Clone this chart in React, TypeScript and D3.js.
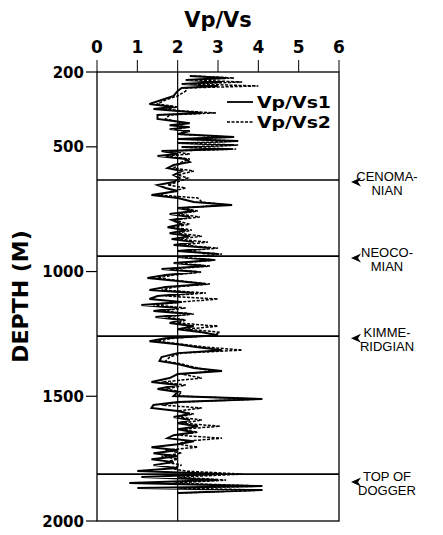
import * as d3 from 'd3'

// depth samples (m) shared by both Vp/Vs logs
const depths = [
  216, 224, 232, 240, 248, 256, 264, 276, 296, 312, 328, 340, 348, 356, 364, 372, 388, 396, 405, 413,
  421, 429, 437, 449, 461, 469, 477, 485, 493, 501, 509, 517, 529, 537, 549, 561, 573, 585, 597, 613,
  625, 641, 653, 665, 677, 693, 705, 721, 733, 745, 757, 769, 781, 793, 810, 822, 834, 846, 858, 870,
  882, 894, 906, 918, 930, 942, 954, 966, 978, 990, 1002, 1014, 1026, 1038, 1050, 1062, 1074, 1086, 1098, 1110,
  1122, 1134, 1146, 1158, 1170, 1182, 1194, 1206, 1219, 1231, 1243, 1255, 1267, 1279, 1291, 1303, 1315, 1327, 1343, 1359,
  1371, 1387, 1399, 1411, 1427, 1443, 1455, 1471, 1483, 1499, 1511, 1523, 1535, 1547, 1559, 1571, 1583, 1595, 1608, 1620,
  1632, 1644, 1656, 1668, 1680, 1692, 1704, 1716, 1728, 1740, 1752, 1764, 1776, 1788, 1800, 1812, 1824, 1836, 1848, 1860,
  1868, 1876, 1888
]

const vpvs1 = [
  2.3, 3.2, 2.2, 3.1, 2.1, 3.0, 2.1, 2.0, 1.9, 1.6, 1.3, 1.9, 1.4, 2.0, 2.6, 1.5, 1.5, 1.9, 2.3, 1.8,
  2.3, 1.8, 2.3, 2.0, 3.4, 2.0, 3.5, 2.0, 3.4, 2.1, 3.3, 1.6, 2.0, 1.5, 2.2, 2.3, 1.9, 1.75, 2.1, 1.9,
  2.05, 1.9, 1.5, 1.7, 2.0, 1.35, 2.0, 2.4, 3.35, 2.0, 2.4, 1.8, 2.3, 1.85, 2.1, 1.75, 2.2, 1.8, 2.3, 1.85,
  2.4, 1.9, 2.8, 2.0, 3.0, 2.0, 2.9, 1.9, 2.7, 1.6, 2.5, 1.7, 1.25, 2.0, 2.7, 1.7, 1.3, 2.4, 1.5, 1.3,
  2.1, 1.1, 2.0, 1.4, 2.3, 1.45, 2.1, 1.8, 2.4, 2.0, 2.6, 3.0, 1.7, 1.3, 2.0, 2.5, 3.1, 2.0, 1.6, 1.55,
  2.0, 2.4, 3.1, 2.0, 1.8, 1.35, 2.0, 1.5, 2.0, 1.9, 4.1, 2.0, 1.4, 1.35, 2.0, 2.3, 1.9, 2.3, 2.0, 2.5,
  2.0, 2.4, 1.9, 1.75, 2.4, 2.0, 1.35, 2.0, 1.4, 2.0, 1.35, 1.9, 1.4, 2.0, 1.0, 3.1, 1.1, 3.0, 0.8, 4.1,
  1.0, 4.1, 2.0
]

const vpvs2 = [
  2.4, 3.4, 2.3, 3.6, 2.3, 4.0, 2.2, 2.2, 2.0, 1.7, 1.5, 2.0, 1.7, 2.1, 2.95, 1.8, 1.7, 1.9, 2.2, 1.9,
  2.25, 1.9, 2.2, 2.0, 3.3, 2.1, 3.5, 2.1, 3.5, 2.1, 3.45, 1.8, 2.3, 1.7, 2.3, 2.1, 2.0, 1.9, 2.4, 2.0,
  2.25, 2.0, 1.75, 2.2, 1.9, 1.5, 2.5, 2.6, 3.2, 2.1, 2.5, 2.0, 2.55, 1.9, 2.3, 1.9, 2.35, 2.0, 2.6, 2.0,
  2.75, 2.1, 3.0, 2.1, 3.1, 2.1, 2.95, 2.0, 2.8, 1.8, 2.6, 1.9, 1.5, 2.1, 2.8, 1.9, 1.6, 2.7, 1.7, 3.0,
  2.1, 1.4, 2.2, 1.6, 2.4, 1.7, 2.2, 2.0, 3.0, 2.2, 3.05, 2.9, 1.9, 1.5, 2.1, 2.7, 3.6, 2.1, 1.8, 1.7,
  2.1, 2.5, 2.9, 2.1, 2.6, 1.6, 2.2, 1.7, 2.1, 2.0, 4.0, 2.1, 1.6, 2.6, 2.0, 2.4, 2.0, 2.6, 2.1, 3.05,
  2.1, 2.5, 2.0, 3.1, 2.2, 2.0, 2.5, 1.7, 2.1, 1.6, 2.0, 1.7, 2.1, 1.8, 2.2, 3.6, 2.0, 3.2, 1.9, 4.1,
  2.0, 4.1, 2.0
]

const xTicks = [0, 1, 2, 3, 4, 5, 6]
const yTicks = [200, 500, 1000, 1500, 2000]

// formation tops
const horizonDepths = [633, 938, 1259, 1812]
const horizonLabels = [
  ['CENOMA-', 'NIAN'],
  ['NEOCO-', 'MIAN'],
  ['KIMME-', 'RIDGIAN'],
  ['TOP OF', 'DOGGER']
]

const seriesNames = ['Vp/Vs1', 'Vp/Vs2']

export default function App() {
  const width = 443
  const height = 535
  const margin = { top: 72, right: 104, bottom: 14, left: 97 }

  const x = d3.scaleLinear().domain([0, 6]).range([margin.left, width - margin.right])
  const y = d3.scaleLinear().domain([200, 2000]).range([margin.top, height - margin.bottom])

  const line = d3.line<number>()
    .x(d => x(d))
    .y((d, i) => y(depths[i]))

  const font = 'DejaVu Sans, Arial, sans-serif'
  const noteFont = 'Liberation Sans, Arial, sans-serif'
  const [x0, x1] = x.range()
  const [y0, y1] = y.range()

  return (
    <svg width={width} height={height} style={{ position: 'absolute', left: 0, top: 0, background: '#fff' }}>
      <text x={(x0 + x1) / 2} y={27} textAnchor='middle' fontFamily={font} fontWeight='bold' fontSize={21}>Vp/Vs</text>

      {/* top axis */}
      {xTicks.map(t => (
        <g key={t}>
          <line x1={x(t)} x2={x(t)} y1={y0 - 12} y2={y0} stroke='#000' strokeWidth={1} />
          <text x={x(t)} y={53} textAnchor='middle' fontFamily={font} fontWeight='bold' fontSize={17}>{t}</text>
        </g>
      ))}

      {/* left axis */}
      {yTicks.map(t => (
        <g key={t}>
          <line x1={x0 - 11} x2={x0} y1={y(t)} y2={y(t)} stroke='#000' strokeWidth={1.2} />
          <text x={x0 - 13} y={y(t) + 5.5} textAnchor='end' fontFamily={font} fontWeight='bold' fontSize={15}>{t}</text>
        </g>
      ))}
      <text transform={`translate(28, ${(y0 + y1) / 2}) rotate(-90)`} textAnchor='middle'
        fontFamily={font} fontWeight='bold' fontSize={22}>DEPTH (M)</text>

      {/* frame */}
      <rect x={x0} y={y0} width={x1 - x0} height={y1 - y0} fill='none' stroke='#000' strokeWidth={1.3} />
      <line x1={x(2)} x2={x(2)} y1={y0} y2={y1} stroke='#000' strokeWidth={1.2} />

      {/* formation tops */}
      {horizonDepths.map(d => (
        <line key={d} x1={x0} x2={x1} y1={y(d)} y2={y(d)} stroke='#000' strokeWidth={1.6} />
      ))}

      {/* logs */}
      <path d={line(vpvs2) ?? ''} fill='none' stroke='#000' strokeWidth={1.5} strokeDasharray='3,1.5' />
      <path d={line(vpvs1) ?? ''} fill='none' stroke='#000' strokeWidth={2} strokeLinejoin='miter' />

      {/* legend */}
      <line x1={227} x2={253} y1={102} y2={102} stroke='#000' strokeWidth={1.8} />
      <line x1={227} x2={253} y1={122} y2={122} stroke='#000' strokeWidth={1.4} strokeDasharray='3,1.5' />
      <text x={257} y={108} fontFamily={font} fontWeight='bold' fontSize={16} textLength={74} lengthAdjust='spacingAndGlyphs'>{seriesNames[0]}</text>
      <text x={257} y={128} fontFamily={font} fontWeight='bold' fontSize={16} textLength={74} lengthAdjust='spacingAndGlyphs'>{seriesNames[1]}</text>

      {/* horizon annotations */}
      {horizonDepths.map((d, i) => {
        const yy = y(d) + (i === 3 ? 8 : 2)
        return (
          <g key={d}>
            <path d={`M${x1 + 12},${yy} L${x1 + 22},${yy - 4.5} L${x1 + 19},${yy} L${x1 + 22},${yy + 4.5} Z`} fill='#000' />
            <text x={x1 + 48} y={yy - 1} textAnchor='middle' fontFamily={noteFont} fontSize={13}>{horizonLabels[i][0]}</text>
            <text x={x1 + 48} y={yy + 13} textAnchor='middle' fontFamily={noteFont} fontSize={13}>{horizonLabels[i][1]}</text>
          </g>
        )
      })}
    </svg>
  )
}
